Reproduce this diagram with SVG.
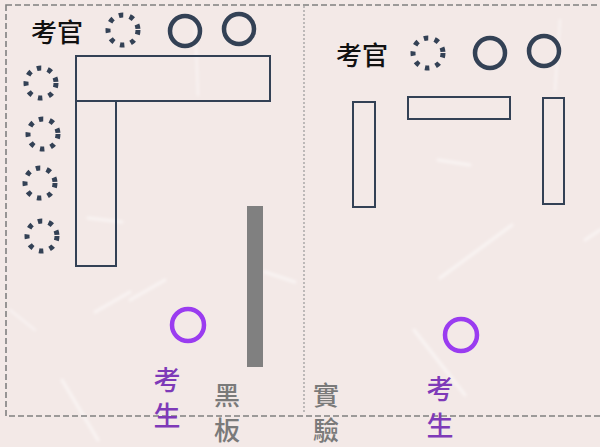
<svg xmlns="http://www.w3.org/2000/svg" width="600" height="447" viewBox="0 0 600 447">
<defs>
<filter id="soft" x="-10%" y="-10%" width="120%" height="120%"><feGaussianBlur stdDeviation="1.5"/></filter>
</defs>
<style>
.bg{fill:#f3e9e7}
.streak{stroke:#ffffff;stroke-opacity:0.5;stroke-linecap:round;fill:none}
.frame{fill:none;stroke:#808080;stroke-width:1.6;stroke-dasharray:6,3}
.divider{fill:none;stroke:#999999;stroke-width:1.2;stroke-dasharray:2,2}
.seat{fill:none;stroke:#334155;stroke-width:4.5}
.empty{fill:none;stroke:#334155;stroke-width:5;stroke-dasharray:4.5,6.5}
.desk{fill:none;stroke:#334155;stroke-width:2}
.student{fill:none;stroke:#9a3cf0;stroke-width:4.5}
.board{fill:#808080}
.lbl{font-family:"Noto Sans CJK TC","Noto Sans CJK SC",sans-serif;dominant-baseline:central;text-anchor:middle;font-weight:500}
.examiner{font-size:26px;fill:#111111}
.stu{font-size:27px;fill:#7e3ab8}
.gray{font-size:26px;fill:#7a7a7a}
</style>
<rect class="bg" x="0" y="0" width="600" height="447"/>
<g id="texture" filter="url(#soft)">
<path class="streak" stroke-width="3" d="M95 312 L130 292"/>
<path class="streak" stroke-width="3" d="M88 218 L122 222"/>
<path class="streak" stroke-width="3" d="M62 380 L98 440"/>
<path class="streak" stroke-width="2" d="M195 20 L198 95"/>
<path class="streak" stroke-width="3" d="M130 300 L165 280"/>
<path class="streak" stroke-width="3" d="M438 160 L470 165"/>
<path class="streak" stroke-width="3" d="M440 278 L512 225"/>
<path class="streak" stroke-width="3" d="M414 330 L465 395"/>
<path class="streak" stroke-width="3" d="M585 240 L600 230"/>
<path class="streak" stroke-width="2" d="M560 20 L555 90"/>
<path class="streak" stroke-width="3" d="M265 272 L295 282"/>
<path class="streak" stroke-width="2" d="M10 310 L35 330"/>
</g>
<g id="frame">
<rect class="frame" x="6" y="5" width="600" height="411"/>
<line class="divider" x1="304" y1="6" x2="304" y2="414"/>
</g>
<g id="left-room">
<g id="l-examiner-label"><text class="lbl examiner" x="57" y="30">考官</text></g>
<g id="l-examiner-empty"><circle class="empty" cx="123" cy="30" r="15"/></g>
<g id="l-examiner-1"><circle class="seat" cx="185" cy="31" r="15"/></g>
<g id="l-examiner-2"><circle class="seat" cx="239" cy="29" r="15"/></g>
<g id="l-desk-h"><rect class="desk" x="76" y="56" width="194" height="45"/></g>
<g id="l-desk-v"><rect class="desk" x="76" y="101" width="40" height="165"/></g>
<g id="l-empty-1"><circle class="empty" cx="41" cy="83" r="15"/></g>
<g id="l-empty-2"><circle class="empty" cx="43" cy="134" r="15"/></g>
<g id="l-empty-3"><circle class="empty" cx="40" cy="183" r="15"/></g>
<g id="l-empty-4"><circle class="empty" cx="42" cy="236" r="15"/></g>
<g id="blackboard"><rect class="board" x="247" y="206" width="16" height="161"/></g>
<g id="l-student"><circle class="student" cx="188" cy="325" r="16"/></g>
<g id="l-student-label"><text class="lbl stu" x="167" y="378">考</text><text class="lbl stu" x="167" y="414">生</text></g>
<g id="blackboard-label"><text class="lbl gray" x="227" y="393">黑</text><text class="lbl gray" x="227" y="428">板</text></g>
</g>
<g id="right-room">
<g id="r-examiner-label"><text class="lbl examiner" x="362" y="53">考官</text></g>
<g id="r-examiner-empty"><circle class="empty" cx="428" cy="53" r="15"/></g>
<g id="r-examiner-1"><circle class="seat" cx="490" cy="53" r="15"/></g>
<g id="r-examiner-2"><circle class="seat" cx="544" cy="51" r="15"/></g>
<g id="r-desk-left"><rect class="desk" x="353" y="102" width="22" height="105"/></g>
<g id="r-desk-mid"><rect class="desk" x="408" y="97" width="102" height="22"/></g>
<g id="r-desk-right"><rect class="desk" x="543" y="98" width="21" height="106"/></g>
<g id="r-student"><circle class="student" cx="461" cy="335" r="16"/></g>
<g id="r-student-label"><text class="lbl stu" x="440" y="387">考</text><text class="lbl stu" x="440" y="424">生</text></g>
<g id="lab-label"><text class="lbl gray" x="326" y="393">實</text><text class="lbl gray" x="326" y="428">驗</text></g>
</g>
</svg>
